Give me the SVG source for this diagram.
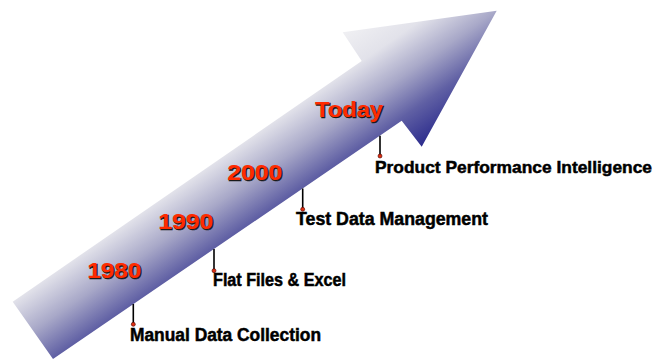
<svg xmlns="http://www.w3.org/2000/svg" width="659" height="360" viewBox="0 0 659 360">
<defs>
<linearGradient id="arrowGrad" gradientUnits="userSpaceOnUse" x1="-7.2" y1="272.9" x2="72.9" y2="389">
<stop offset="0" stop-color="#f0f0f3"/>
<stop offset="0.25" stop-color="#e2e2ea"/>
<stop offset="0.5" stop-color="#a8a8c8"/>
<stop offset="0.74" stop-color="#6060a4"/>
<stop offset="1" stop-color="#2a2a8c"/>
</linearGradient>
<style>
.year{font-family:"Liberation Sans",Arial,sans-serif;font-weight:bold;font-size:22px;}
.yshadow{fill:#1a1a1a;stroke:#1a1a1a;stroke-width:0.6;}
.yfill{fill:#ff2a00;}
.lbl{font-family:"Liberation Sans",Arial,sans-serif;font-weight:bold;font-size:18px;fill:#000;stroke:#000;stroke-width:0.5;}
.stem{stroke:#000;stroke-width:1.6;fill:none;}
.dot{fill:#e03010;stroke:#400;stroke-width:0.6;}
</style>
</defs>
<rect width="659" height="360" fill="#fff"/>
<g id="arrow">
<polygon points="12.7,301.7 361.7,61 342.7,32.3 496.7,10.7 421.7,146.7 401.7,120.7 53,359" fill="url(#arrowGrad)"/>
</g>
<g id="connectors">
<line class="stem" x1="133.3" y1="304" x2="133.3" y2="324"/>
<circle class="dot" cx="133.3" cy="324.3" r="2"/>
<line class="stem" x1="214" y1="249" x2="214" y2="270.5"/>
<circle class="dot" cx="214" cy="270.7" r="2"/>
<line class="stem" x1="302.7" y1="188.5" x2="302.7" y2="209"/>
<circle class="dot" cx="302.7" cy="209.3" r="2"/>
<line class="stem" x1="380" y1="135.7" x2="380" y2="156"/>
<circle class="dot" cx="380" cy="156" r="2"/>
</g>
<g id="y1980">
<text class="year yshadow" x="88.3" y="278.5" textLength="54" lengthAdjust="spacingAndGlyphs">1980</text>
<text class="year yfill" x="87.3" y="277.5" textLength="54" lengthAdjust="spacingAndGlyphs">1980</text>
</g>
<g id="y1990">
<text class="year yshadow" x="159.3" y="230" textLength="55" lengthAdjust="spacingAndGlyphs">1990</text>
<text class="year yfill" x="158.3" y="229" textLength="55" lengthAdjust="spacingAndGlyphs">1990</text>
</g>
<g id="y2000">
<text class="year yshadow" x="228.3" y="180.8" textLength="55" lengthAdjust="spacingAndGlyphs">2000</text>
<text class="year yfill" x="227.3" y="179.8" textLength="55" lengthAdjust="spacingAndGlyphs">2000</text>
</g>
<g id="today">
<text class="year yshadow" x="316" y="118.3" textLength="68" lengthAdjust="spacingAndGlyphs">Today</text>
<text class="year yfill" x="315" y="117.3" textLength="68" lengthAdjust="spacingAndGlyphs">Today</text>
</g>
<g id="manual">
<text class="lbl" x="130" y="341.3" textLength="191" lengthAdjust="spacingAndGlyphs">Manual Data Collection</text>
</g>
<g id="flat">
<text class="lbl" x="213" y="286.3" textLength="133" lengthAdjust="spacingAndGlyphs">Flat Files &amp; Excel</text>
</g>
<g id="tdm">
<text class="lbl" x="296" y="224.8" textLength="192" lengthAdjust="spacingAndGlyphs">Test Data Management</text>
</g>
<g id="ppi">
<text class="lbl" x="375" y="172.8" style="font-size:17.3px" textLength="277" lengthAdjust="spacingAndGlyphs">Product Performance Intelligence</text>
</g>
</svg>
